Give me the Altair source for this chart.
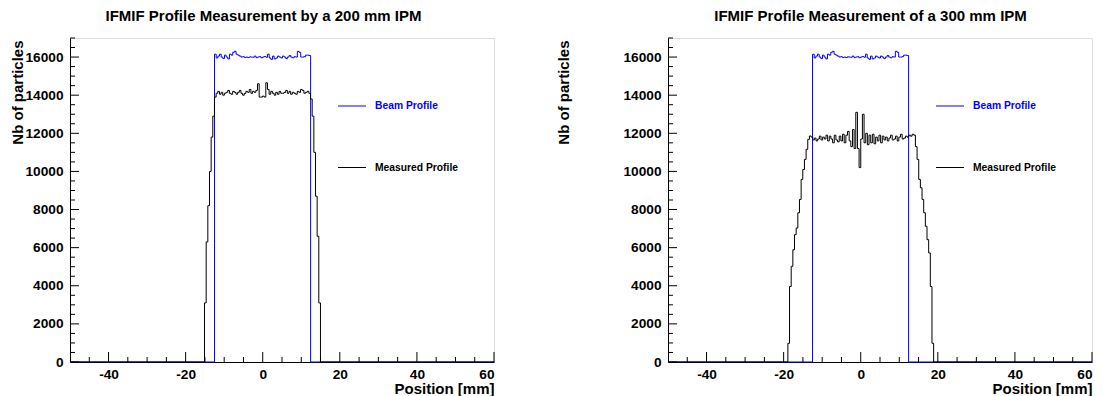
import altair as alt
import pandas as pd

FONT = "Liberation Sans"
BIN = 0.4297
X_MIN, X_MAX = -50, 60
Y_MAX = 17000
W, H = 424, 324

# Beam profile (same in both panels)
beam_start = -12.5
beam_values = [
    16150, 15950, 16050, 16150, 16000, 15920, 16100, 16000, 15900, 16150,
    16100, 16250, 16300, 16150, 16100, 16050, 16000, 16020, 15980, 16000,
    15970, 16010, 16000, 15990, 16050, 15970, 16000, 16020, 15960, 16000,
    16030, 15990, 16150, 15950, 15880, 16050, 15900, 15950, 16050, 16000,
    15950, 16050, 16000, 15920, 16000, 16080, 16000, 15960, 16020, 16000,
    16300, 16250, 16000, 16000, 16020, 16100, 16100, 16080,
]

# Measured profile, 200 mm IPM
meas200_start = -15.1
meas200_values = [
    3100, 6300, 8200, 10000, 11800, 12900, 13900,
    14100, 14200, 14050, 14150, 14000, 14100, 14150, 14250, 14100, 14050,
    14200, 14150, 14050, 14150, 14250, 14100, 14000, 14100, 14200, 14150,
    14300, 14100, 14200, 14150, 14250, 14600, 13900, 13900, 13950, 13900,
    14650, 14300, 14050, 14200, 14100, 14000, 14150, 14050, 14200, 14100,
    14100, 14150, 14250, 14100, 14200, 14050, 14150, 14100, 14050, 14200,
    14150, 14300, 14250, 14100, 14150, 14200, 14100,
    13800, 12900, 11000, 8700, 6600, 3100,
]

# Measured profile, 300 mm IPM
meas300_start = -18.9
meas300_values = [
    980, 3960, 5020, 5890, 6680, 7030, 7830, 8530, 9580, 10100, 10630, 11160, 11680, 11860,
    11800, 11650, 11750, 11600, 11700, 11850, 11650, 11800, 11700, 11900,
    11600, 11850, 11700, 11500, 11900, 11650, 11550, 11850, 11600, 11950,
    11500, 11900, 12100, 11600, 11300, 12200, 11200, 13100, 11200, 10200,
    11700, 13000, 11500, 12000, 11400, 11900, 11500, 11950, 11450, 11800,
    11600, 11900, 11500, 11850, 11650, 11800, 11600, 11750, 11900, 11650,
    11700, 11850, 11600, 11800, 11950, 11700, 11750, 11850, 11800, 11900,
    11850, 11950,
    11900, 11300, 10630, 9580, 9140, 8530, 7830, 7120, 6420, 5720, 3960, 980,
]

x_major = [-40, -20, 0, 20, 40, 60]
x_minor = [-45, -35, -30, -25, -15, -10, -5, 5, 10, 15, 25, 30, 35, 45, 50, 55]
y_major = [0, 2000, 4000, 6000, 8000, 10000, 12000, 14000, 16000]
y_minor = [500, 1000, 1500, 2500, 3000, 3500, 4500, 5000, 5500, 6500, 7000, 7500,
           8500, 9000, 9500, 10500, 11000, 11500, 12500, 13000, 13500, 14500,
           15000, 15500, 16500, 17000]

legend_labels = ["Beam Profile", "Measured Profile"]
titles = ["IFMIF Profile Measurement by a 200 mm IPM",
          "IFMIF Profile Measurement of a 300 mm IPM"]


def hist_df(start, values):
    xs = [X_MIN] + [start + i * BIN for i in range(len(values))] + [start + len(values) * BIN, X_MAX]
    ys = [0] + list(values) + [0, 0]
    return pd.DataFrame({"x": xs, "y": ys})


def x_enc():
    return alt.X("x:Q", scale=alt.Scale(domain=[X_MIN, X_MAX], nice=False, zero=False),
                 axis=alt.Axis(values=x_major, labelExpr="'' + datum.value", labelFont=FONT,
                               labelFontSize=13.7, labelFontWeight="bold", labelColor="black",
                               tickSize=0, labelPadding=5, domainColor="black", domainWidth=1,
                               grid=False, title="Position [mm]", titleFont=FONT, titleFontSize=15,
                               titleFontWeight="bold", titleColor="black", titleX=W, titleY=26,
                               titleAlign="right", titleBaseline="middle", titleAngle=0))


def y_enc(ytitle_x):
    return alt.Y("y:Q", scale=alt.Scale(domain=[0, Y_MAX], nice=False, zero=True),
                 axis=alt.Axis(values=y_major, labelExpr="'' + datum.value", labelFont=FONT,
                               labelFontSize=13.7, labelFontWeight="bold", labelColor="black",
                               tickSize=0, labelPadding=7, domainColor="black", domainWidth=1,
                               grid=False, title="Nb of particles", titleFont=FONT, titleFontSize=15,
                               titleFontWeight="bold", titleColor="black", titleX=ytitle_x, titleY=2,
                               titleAlign="right", titleBaseline="middle", titleAngle=-90))


def panel(title, meas_start, meas_values, ytitle_x, title_dx):
    xe = x_enc()
    ye = y_enc(ytitle_x)
    beam = alt.Chart(hist_df(beam_start, beam_values)).mark_line(
        interpolate="step-after", color="#0000ff", strokeWidth=1).encode(x=xe, y=ye)
    meas = alt.Chart(hist_df(meas_start, meas_values)).mark_line(
        interpolate="step-after", color="black", strokeWidth=1).encode(x=xe, y=ye)
    xmaj = alt.Chart(pd.DataFrame({"x": x_major})).mark_rule(color="black").encode(
        x=xe, y=alt.value(H), y2=alt.value(H - 10))
    xmin = alt.Chart(pd.DataFrame({"x": x_minor})).mark_rule(color="black").encode(
        x=xe, y=alt.value(H), y2=alt.value(H - 5))
    ymaj = alt.Chart(pd.DataFrame({"y": y_major})).mark_rule(color="black").encode(
        y=ye, x=alt.value(0), x2=alt.value(9))
    ymin = alt.Chart(pd.DataFrame({"y": y_minor})).mark_rule(color="black").encode(
        y=ye, x=alt.value(0), x2=alt.value(5))
    leg_df = pd.DataFrame({"label": [legend_labels[0]]})
    leg_df2 = pd.DataFrame({"label": [legend_labels[1]]})
    l1 = alt.Chart(leg_df).mark_rule(color="#0000ff", strokeWidth=1).encode(
        x=alt.value(268), x2=alt.value(296), y=alt.value(68))
    t1 = alt.Chart(leg_df).mark_text(align="left", baseline="middle", font=FONT, fontSize=10.3,
                                     fontWeight="bold", color="#0000ff").encode(
        x=alt.value(305), y=alt.value(68), text="label:N")
    l2 = alt.Chart(leg_df2).mark_rule(color="black", strokeWidth=1).encode(
        x=alt.value(268), x2=alt.value(296), y=alt.value(129.5))
    t2 = alt.Chart(leg_df2).mark_text(align="left", baseline="middle", font=FONT, fontSize=10.3,
                                      fontWeight="bold", color="black").encode(
        x=alt.value(305), y=alt.value(129.5), text="label:N")
    return alt.layer(beam, meas, xmaj, xmin, ymaj, ymin, l1, t1, l2, t2).properties(
        width=W, height=H,
        title=alt.TitleParams(text=title, font=FONT, fontSize=15, fontWeight="bold",
                              color="black", anchor="middle", dx=title_dx, offset=14))


left = panel(titles[0], meas200_start, meas200_values, -53, -18.5)
right = panel(titles[1], meas300_start, meas300_values, -105, -9.5)

chart = alt.hconcat(left, right, spacing=58).properties(
    padding={"left": 1, "top": 0, "right": 0, "bottom": 0}
).configure_view(stroke=None).configure(background="white")

chart.save("out.html", embed_options={"renderer": "svg", "actions": False})
